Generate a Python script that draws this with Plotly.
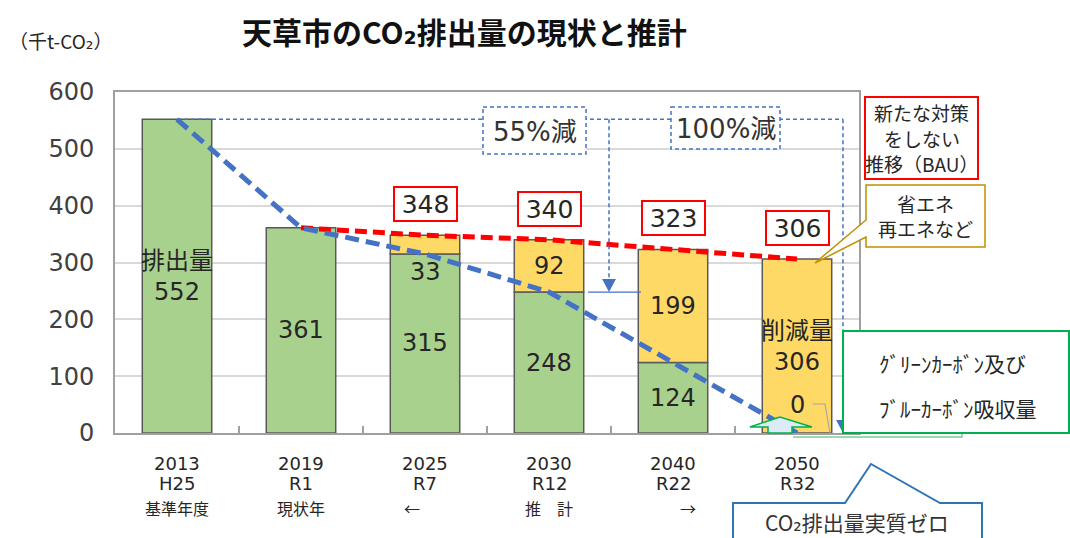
import plotly.graph_objects as go

# ---------------- data ----------------
years = ["2013", "2019", "2025", "2030", "2040", "2050"]
eras = ["H25", "R1", "R7", "R12", "R22", "R32"]
notes = ["基準年度", "現状年", "←", "推　計", "→", ""]
emissions = [552, 361, 315, 248, 124, 0]        # green: CO2 emissions
reductions = [0, 0, 33, 92, 199, 306]           # yellow: reduction amount
bau = [None, 361, 348, 340, 323, 306]           # business as usual
yticks = [0, 100, 200, 300, 400, 500, 600]
target_55 = 248                                  # 55% reduction level

# ---------------- geometry helpers ----------------
W, H = 1070, 538
L, R, T, B = 115, 859, 92, 433


def px(x):
    return (x - L) / (R - L)


def py(y):
    return (B - y) / (B - T)


def dx(p):  # pixel -> category coordinate
    return (p - L) / ((R - L) / 6) - 0.5


NUM = "DejaVu Sans, Noto Sans CJK JP"
JP = "Noto Sans CJK JP, DejaVu Sans"
TXT = "#262626"
GREEN = "#A9D18E"
YELLOW = "#FFD966"
OUTL = "#595959"
BLUE = "#4472C4"

xs = list(range(len(years)))

fig = go.Figure()
fig.add_trace(go.Bar(
    x=xs, y=[v if v else None for v in emissions], width=0.56,
    marker=dict(color=GREEN, line=dict(color=OUTL, width=1.5)),
    hoverinfo="skip"))
fig.add_trace(go.Bar(
    x=xs, y=[v if v else None for v in reductions], base=emissions, width=0.56,
    marker=dict(color=YELLOW, line=dict(color=OUTL, width=1.5)),
    hoverinfo="skip"))
fig.add_trace(go.Scatter(
    x=xs, y=bau, mode="lines", hoverinfo="skip",
    line=dict(color="#FF0000", width=5, dash="12px,6px")))
fig.add_trace(go.Scatter(
    x=xs, y=emissions, mode="lines", hoverinfo="skip",
    line=dict(color=BLUE, width=5, dash="14px,7px")))

shapes = []
ann = []


def label(xp, yp, text, size, family=NUM, color=TXT, **kw):
    d = dict(x=px(xp), y=py(yp), xref="paper", yref="paper", text=text,
             showarrow=False, font=dict(size=size, color=color, family=family),
             xanchor="center", yanchor="middle")
    d.update(kw)
    ann.append(d)


# thin dashed guide lines
xr = dx(843)
shapes.append(dict(type="line", xref="x", yref="y", x0=0, x1=xr,
                   y0=emissions[0], y1=emissions[0],
                   line=dict(color=BLUE, width=1.5, dash="4px,3px")))
shapes.append(dict(type="line", xref="x", yref="y", x0=xr, x1=xr,
                   y0=emissions[0], y1=10,
                   line=dict(color=BLUE, width=1.5, dash="4px,3px")))
shapes.append(dict(type="path", xref="x", yref="y",
                   path=f"M {xr-0.056},23 L {xr+0.056},23 L {xr},0 Z",
                   fillcolor=BLUE, line=dict(width=0)))
x55 = dx(609)
shapes.append(dict(type="line", xref="x", yref="y", x0=x55, x1=x55,
                   y0=emissions[0], y1=target_55 + 20,
                   line=dict(color=BLUE, width=1.5, dash="4px,3px")))
shapes.append(dict(type="path", xref="x", yref="y",
                   path=f"M {x55-0.056},{target_55+23} L {x55+0.056},{target_55+23} L {x55},{target_55} Z",
                   fillcolor=BLUE, line=dict(width=0)))
shapes.append(dict(type="line", xref="x", yref="y", x0=dx(588), x1=dx(641),
                   y0=target_55, y1=target_55,
                   line=dict(color=BLUE, width=1.2)))

# dashed boxes
for (x0, x1, y0, y1, txt) in [(483, 586, 107, 154, "55%減"), (671, 780, 107, 149, "100%減")]:
    shapes.append(dict(type="rect", xref="paper", yref="paper",
                       x0=px(x0), x1=px(x1), y0=py(y0), y1=py(y1),
                       fillcolor="white", line=dict(color=BLUE, width=1.5, dash="4px,3px")))
    label((x0 + x1) / 2, (y0 + y1) / 2 + 1, txt, 26, color="#333333")

# BAU total boxes
for i, v in enumerate(bau):
    if v is None or i == 1:
        continue
    ann.append(dict(x=i, y=v, xref="x", yref="y", text=str(v), showarrow=False,
                    yshift=31, width=61, height=32, borderpad=0, borderwidth=2,
                    bordercolor="#FF0000", bgcolor="white",
                    font=dict(size=25, color=TXT, family=NUM)))

# bar labels
for i in xs:
    g = emissions[i]
    r = reductions[i]
    if g > 0:
        t = f"排出量<br>{g}" if i == 0 else str(g)
        ann.append(dict(x=i, y=g / 2, xref="x", yref="y", text=t, showarrow=False,
                        font=dict(size=24, color=TXT, family=NUM)))
    else:
        ann.append(dict(x=i, y=0, xref="x", yref="y", text=str(g), showarrow=False,
                        yshift=28, font=dict(size=24, color=TXT, family=NUM)))
    if r:
        if i == len(xs) - 1:
            ann.append(dict(x=i, y=g + r / 2, xref="x", yref="y", text=f"削減量<br>{r}",
                            showarrow=False, font=dict(size=24, color=TXT, family=NUM)))
        elif r >= 50:
            ann.append(dict(x=i, y=g + r / 2, xref="x", yref="y", text=str(r),
                            showarrow=False, font=dict(size=24, color=TXT, family=NUM)))
        else:
            ann.append(dict(x=i, y=g, xref="x", yref="y", text=str(r), yshift=-18,
                            showarrow=False, font=dict(size=24, color=TXT, family=NUM)))

# category labels under the axis
note_shift = [0, 0, -13, 0, 15, 0]
for i in xs:
    ann.append(dict(x=i, y=py(463), xref="x", yref="paper", text=years[i], showarrow=False,
                    font=dict(size=18, color=TXT, family=NUM), yanchor="middle"))
    ann.append(dict(x=i, y=py(483), xref="x", yref="paper", text=eras[i], showarrow=False,
                    font=dict(size=18, color=TXT, family=NUM), yanchor="middle"))
    if notes[i]:
        ann.append(dict(x=i, y=py(508), xref="x", yref="paper", text=notes[i], showarrow=False,
                        xshift=note_shift[i],
                        font=dict(size=16, color=TXT, family=JP), yanchor="middle"))

# BAU legend box
shapes.append(dict(type="rect", xref="paper", yref="paper",
                   x0=px(865), x1=px(978), y0=py(179), y1=py(97),
                   fillcolor="white", line=dict(color="#FF0000", width=2)))
for yy, t in [(113, "新たな対策"), (138, "をしない"), (163, "推移（BAU）")]:
    label(921.5, yy, t, 19, family=JP)

# 省エネ callout
GOLD = "#BF9000"
path = (f"M {px(866)},{py(185)} L {px(985)},{py(185)} L {px(985)},{py(247)} "
        f"L {px(866)},{py(247)} L {px(866)},{py(237)} L {px(815)},{py(263)} "
        f"L {px(866)},{py(220)} Z")
shapes.append(dict(type="path", xref="paper", yref="paper", path=path,
                   fillcolor="white", line=dict(color=GOLD, width=1.5)))
label(925.5, 203, "省エネ", 19, family=JP)
label(925.5, 228, "再エネなど", 19, family=JP)

# green arrow + thin green line + gray connector
gpath = (f"M {px(768)},{py(433)} L {px(768)},{py(427)} L {px(750)},{py(427)} "
         f"L {px(780)},{py(417)} L {px(812)},{py(427)} L {px(792)},{py(427)} "
         f"L {px(792)},{py(433)} Z")
shapes.append(dict(type="path", xref="paper", yref="paper", path=gpath,
                   fillcolor="#DDEBF7", line=dict(color="#00B050", width=1.5)))
shapes.append(dict(type="path", xref="paper", yref="paper",
                   path=f"M {px(793)},{py(437)} L {px(962)},{py(437)} L {px(962)},{py(433)}",
                   line=dict(color="#7CCB96", width=1.5)))
shapes.append(dict(type="path", xref="paper", yref="paper",
                   path=f"M {px(813)},{py(404)} L {px(825)},{py(404)} L {px(830)},{py(433)}",
                   line=dict(color="#A6A6A6", width=1.2)))

# green absorption box
shapes.append(dict(type="rect", xref="paper", yref="paper",
                   x0=px(843), x1=px(1069), y0=py(433), y1=py(331),
                   fillcolor="white", line=dict(color="#00B050", width=2)))
label(877, 363, "ｸﾞﾘｰﾝｶｰﾎﾞﾝ及び", 21, family=JP, xanchor="left")
label(877, 408, "ﾌﾞﾙｰｶｰﾎﾞﾝ吸収量", 21, family=JP, xanchor="left")

# CO2 zero callout
cpath = (f"M {px(733)},{py(545)} L {px(733)},{py(503)} L {px(845)},{py(503)} "
         f"L {px(871)},{py(464)} L {px(940)},{py(503)} L {px(982)},{py(503)} "
         f"L {px(982)},{py(545)} Z")
shapes.append(dict(type="path", xref="paper", yref="paper", path=cpath,
                   fillcolor="white", line=dict(color="#2E75B6", width=2)))
label(857, 522, "CO₂排出量実質ゼロ", 21, family=JP, color="#333333")

# title and unit
label(464, 31, "天草市のCO₂排出量の現状と推計", 30, family=JP, color="#111111",
      font=dict(size=30, color="#111111", family=JP, weight="bold"))
label(60, 41, "（千t-CO₂）", 19, family=JP)

fig.update_layout(
    width=W, height=H,
    margin=dict(l=L, r=W - R, t=T, b=H - B, autoexpand=False),
    paper_bgcolor="white", plot_bgcolor="white",
    barmode="overlay", showlegend=False, hovermode=False,
    shapes=shapes, annotations=ann,
    xaxis=dict(range=[-0.5, 5.5], showgrid=False, zeroline=False,
               showline=True, linecolor="#A0A0A0", linewidth=2, mirror=True,
               tickvals=[0.5, 1.5, 2.5, 3.5, 4.5], ticks="inside", ticklen=7,
               tickcolor="#A0A0A0", tickwidth=1.5, showticklabels=False),
    yaxis=dict(range=[0, 600], tickvals=yticks, showgrid=True, gridcolor="#D9D9D9",
               gridwidth=1.5, zeroline=False, showline=True, linecolor="#A0A0A0",
               linewidth=2, mirror=True, ticks="",
               tickfont=dict(size=24, color="#404040", family=NUM),
               ticklabelstandoff=14),
)

fig.write_html("out.html", config={"displayModeBar": False},
               post_script="document.body.style.margin='0px';")
